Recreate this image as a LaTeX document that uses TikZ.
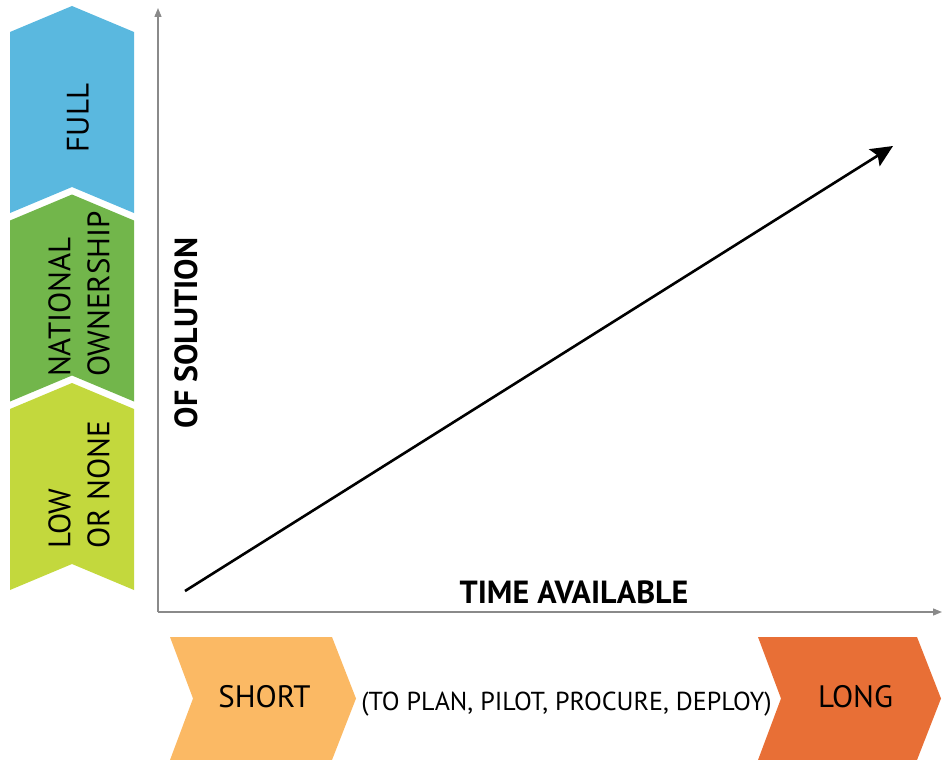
\documentclass[tikz,border=0pt]{standalone}
\usepackage{fontspec}
\setmainfont{PT Sans}
\usepackage{tikz}
\usetikzlibrary{arrows.meta, positioning, calc}

\definecolor{fullblue}{HTML}{5AB8DF}
\definecolor{natgreen}{HTML}{72B64B}
\definecolor{lowgreen}{HTML}{C3D83D}
\definecolor{shortorange}{HTML}{FBB964}
\definecolor{longorange}{HTML}{E86F36}
\definecolor{axisgray}{HTML}{8A8A8A}

\begin{document}
\begin{tikzpicture}[x=1pt, y=-1pt, lbl/.style={font=\fontsize{31}{39}\selectfont, inner sep=0pt}, side/.style={lbl, align=left, rotate=90}, heading/.style={font=\bfseries\fontsize{32}{38}\selectfont, inner sep=0pt}, axis/.style={draw=axisgray, line width=1.3pt, -{Triangle[length=9pt,width=7pt]}}, >=Stealth]
        \useasboundingbox (0,0) rectangle (942,760);

        % ownership levels down the left side
        \foreach \y/\col in {6/fullblue, 194.5/natgreen, 383/lowgreen}
            \fill[\col] (10,\y+26) -- (72,\y) -- (134,\y+26) -- (134,\y+207) -- (72,\y+181) -- (10,\y+207) -- cycle;
        \node[side] (full) at (78,118) {FULL};
        \node[side] (national) at (79,294) {NATIONAL\\OWNERSHIP};
        \node[side] (low) at (79,485) {LOW\\OR NONE};

        % axes
        \coordinate (o) at (158,612);
        \coordinate (ytop) at (158,8);
        \coordinate (xend) at (942,612);
        \draw[axis] (o) -- (ytop);
        \draw[axis] (o) -- (xend);

        \coordinate (start) at (185,591);
        \coordinate (tip) at (893,146);
        \draw[line width=2.6pt, -{Stealth[length=22pt,width=20pt,inset=4pt]}] (start) -- (tip);

        \node[heading, rotate=90] (solution) at (186,333) {OF SOLUTION};
        \node[heading] (time) at (574,592) {TIME AVAILABLE};

        % time scale along the bottom
        \fill[shortorange] (170,637) -- (332,637) -- (356,698.5) -- (332,760) -- (170,760) -- (193,698.5) -- cycle;
        \fill[longorange] (758,637) -- (917,637) -- (941,698.5) -- (917,760) -- (758,760) -- (781,698.5) -- cycle;
        \node[lbl, anchor=base] (short) at (264.5,707) {SHORT};
        \node[lbl, anchor=base] (long) at (855.5,707) {LONG};
        \node[font=\fontsize{26}{30}\selectfont, inner sep=0pt, anchor=base] (steps) at (566.5,710) {(TO PLAN, PILOT, PROCURE, DEPLOY)};
    \end{tikzpicture}
\end{document}
